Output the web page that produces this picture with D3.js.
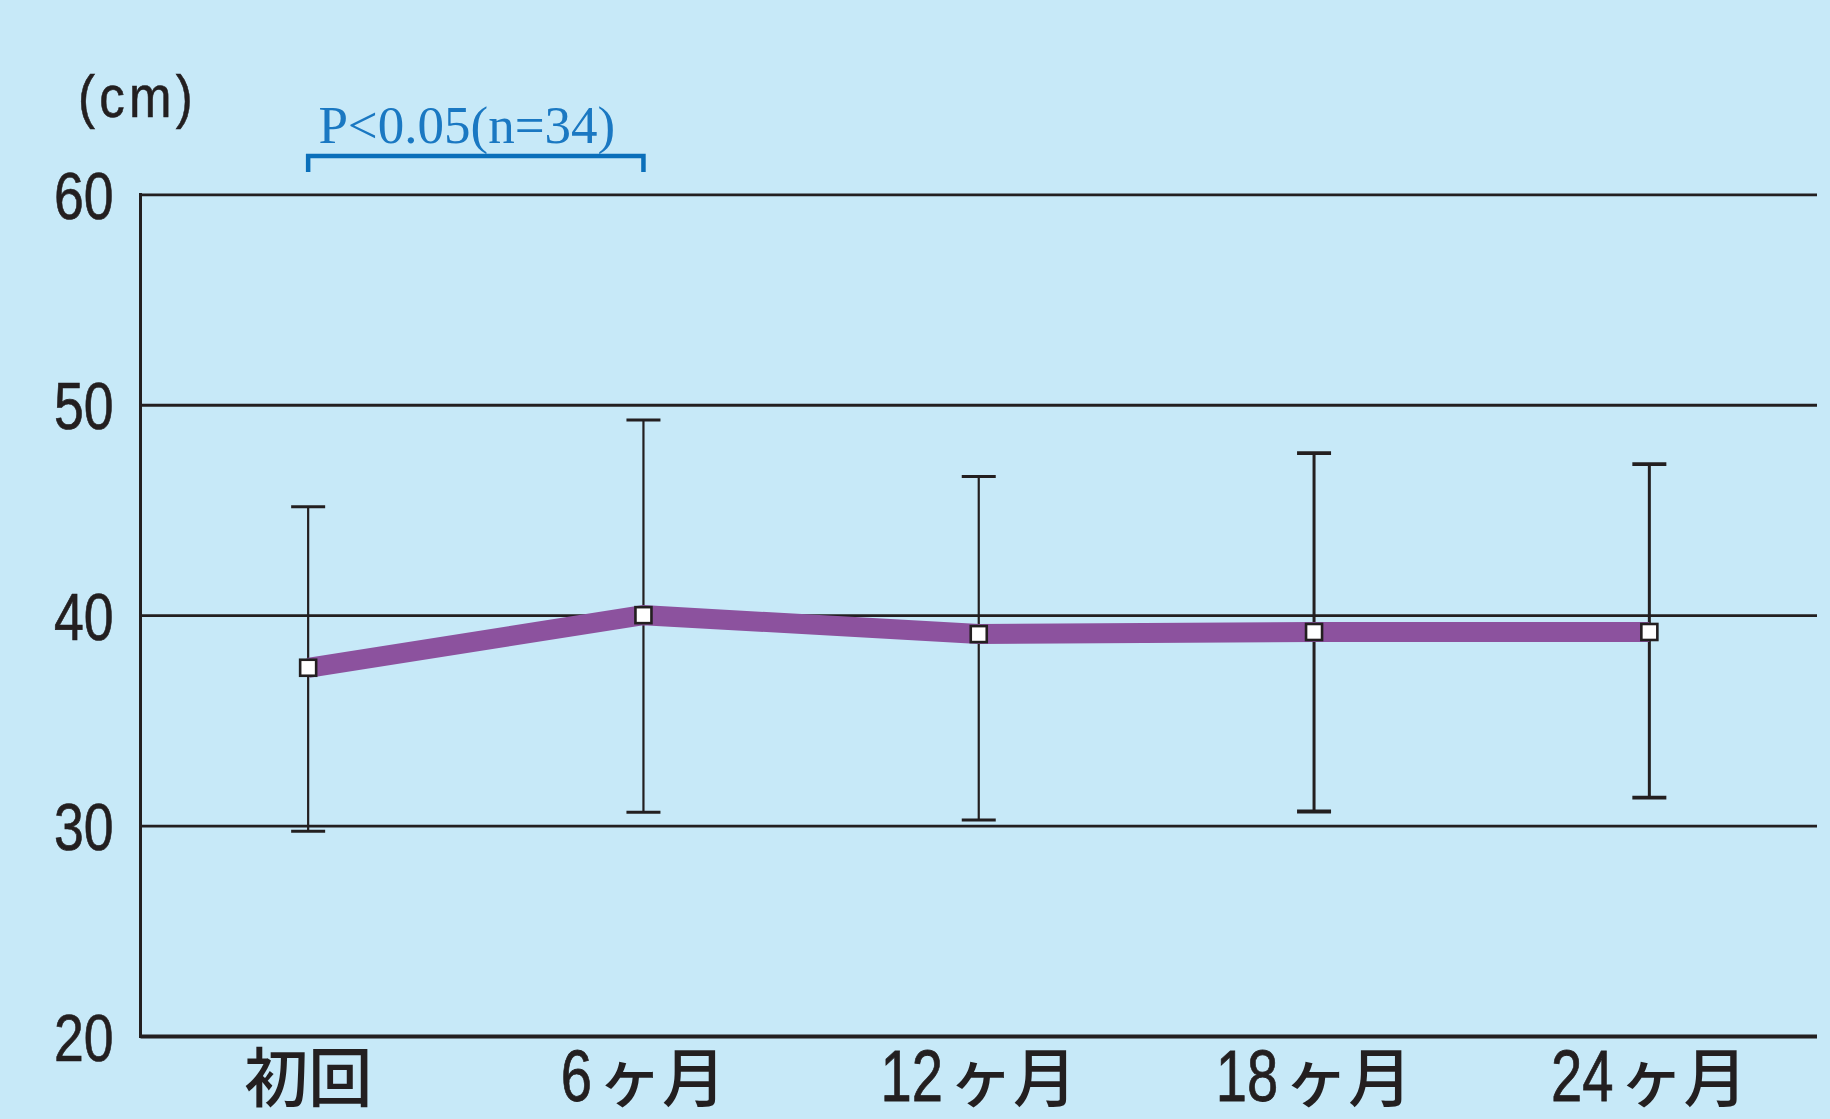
<!DOCTYPE html>
<html><head><meta charset="utf-8">
<script src="https://cdn.jsdelivr.net/npm/d3@7"></script>
<style>
html,body{margin:0;padding:0;background:#c7e9f8;}
svg{display:block;}
</style></head>
<body>
<svg id="chart" width="1830" height="1119"></svg>
<script>
const categories = ["初回","6ヶ月","12ヶ月","18ヶ月","24ヶ月"];
const means = [37.5, 40.0, 39.1, 39.2, 39.2];
const upper = [45.15, 49.28, 46.59, 47.70, 47.18];
const lower = [29.73, 30.63, 30.27, 30.67, 31.33];
const yTicks = [20, 30, 40, 50, 60];
const unitLabel = "(cm)";
const sigLabel = "P<0.05(n=34)";
const sigPair = ["初回", "6ヶ月"];

const svg = d3.select("#chart");
svg.append("rect").attr("width",1830).attr("height",1119).attr("fill","#c7e9f8");

const pLeft = 140.5, pRight = 1817, pTop = 194.3, pBottom = 1036;
const x = d3.scalePoint().domain(categories).range([pLeft, pRight]).padding(0.5);
const y = d3.scaleLinear().domain([20, 60]).range([pBottom, pTop]);

const numFont = "'Liberation Sans', Arial, sans-serif";
const cjkFont = "'Noto Sans CJK JP', sans-serif";
const ink = "#231f20";

// y axis with gridlines
const yAxis = svg.append("g").attr("transform", `translate(${pLeft},0)`)
  .call(d3.axisLeft(y).tickValues(yTicks).tickSize(-(pRight-pLeft)).tickPadding(27).tickFormat(d3.format("d")));
yAxis.select(".domain").remove();
yAxis.selectAll(".tick line").attr("stroke",ink).attr("stroke-width", d => d === 20 ? 4 : 2.8);
yAxis.selectAll(".tick text")
  .attr("x", 0).attr("dy","0.36em")
  .attr("transform","translate(-27,0) scale(0.8,1)")
  .attr("fill",ink).attr("stroke",ink).attr("stroke-width",0.7)
  .attr("font-family", numFont).attr("font-size", 67);
svg.append("line").attr("x1",pLeft).attr("x2",pLeft).attr("y1",pTop-1.4).attr("y2",pBottom+2)
  .attr("stroke",ink).attr("stroke-width",3);

// x labels
const digitScale = 0.78;
categories.forEach(c => {
  const m = c.match(/^(\d*)(.*)$/);
  const g = svg.append("g").attr("transform", `translate(${x(c)},1101)`);
  let w1 = 0;
  let tNum = null;
  if (m[1]) {
    tNum = g.append("text").attr("font-family", numFont).attr("font-size",72)
      .attr("fill",ink).attr("stroke",ink).attr("stroke-width",0.8).text(m[1]);
    w1 = tNum.node().getComputedTextLength() * digitScale;
  }
  const tCjk = g.append("text").attr("font-family", cjkFont).attr("font-size",64).attr("font-weight",500)
    .attr("fill",ink).text(m[2]);
  const w2 = tCjk.node().getComputedTextLength();
  const gap = m[1] ? 6 : 0;
  const start = -(w1 + gap + w2) / 2;
  if (tNum) tNum.attr("transform", `translate(${start},0) scale(${digitScale},1)`);
  tCjk.attr("x", start + w1 + gap);
});

// error bars
const eb = svg.append("g").attr("stroke",ink);
categories.forEach((c,i) => {
  const sw = i >= 3 ? 3 : 2.2;
  eb.append("line").attr("x1",x(c)).attr("x2",x(c)).attr("y1",y(upper[i])).attr("y2",y(lower[i])).attr("stroke-width",sw);
  [upper[i], lower[i]].forEach(v => {
    eb.append("line").attr("x1",x(c)-17).attr("x2",x(c)+17).attr("y1",y(v)).attr("y2",y(v)).attr("stroke-width",sw+0.8);
  });
});

// mean line
const line = d3.line().x((d,i)=>x(categories[i])).y(d=>y(d));
svg.append("path").datum(means).attr("d", line).attr("fill","none")
  .attr("stroke","#8c529e").attr("stroke-width",20).attr("stroke-linejoin","miter");

// markers
svg.append("g").selectAll("rect").data(means).join("rect")
  .attr("x",(d,i)=>x(categories[i])-8).attr("y",d=>y(d)-8)
  .attr("width",16).attr("height",16).attr("fill","#ffffff").attr("stroke",ink).attr("stroke-width",2.6);

// unit label
svg.append("text").attr("transform","translate(78,117) scale(0.85,1)")
  .attr("font-family",numFont).attr("font-size",60).attr("letter-spacing",5)
  .attr("fill",ink).attr("stroke",ink).attr("stroke-width",0.6).text(unitLabel);

// significance bracket
const bx1 = x(sigPair[0]), bx2 = x(sigPair[1]);
svg.append("path").attr("d", `M${bx1},172 V156 H${bx2} V172`).attr("fill","none")
  .attr("stroke","#0a6fba").attr("stroke-width",4.5);
svg.append("text").attr("x",(bx1+bx2)/2 - 9).attr("y",142.5).attr("text-anchor","middle")
  .attr("font-family","'Liberation Serif', 'DejaVu Serif', serif").attr("font-size",53)
  .attr("fill","#1a78c2").text(sigLabel);
</script>
</body></html>
